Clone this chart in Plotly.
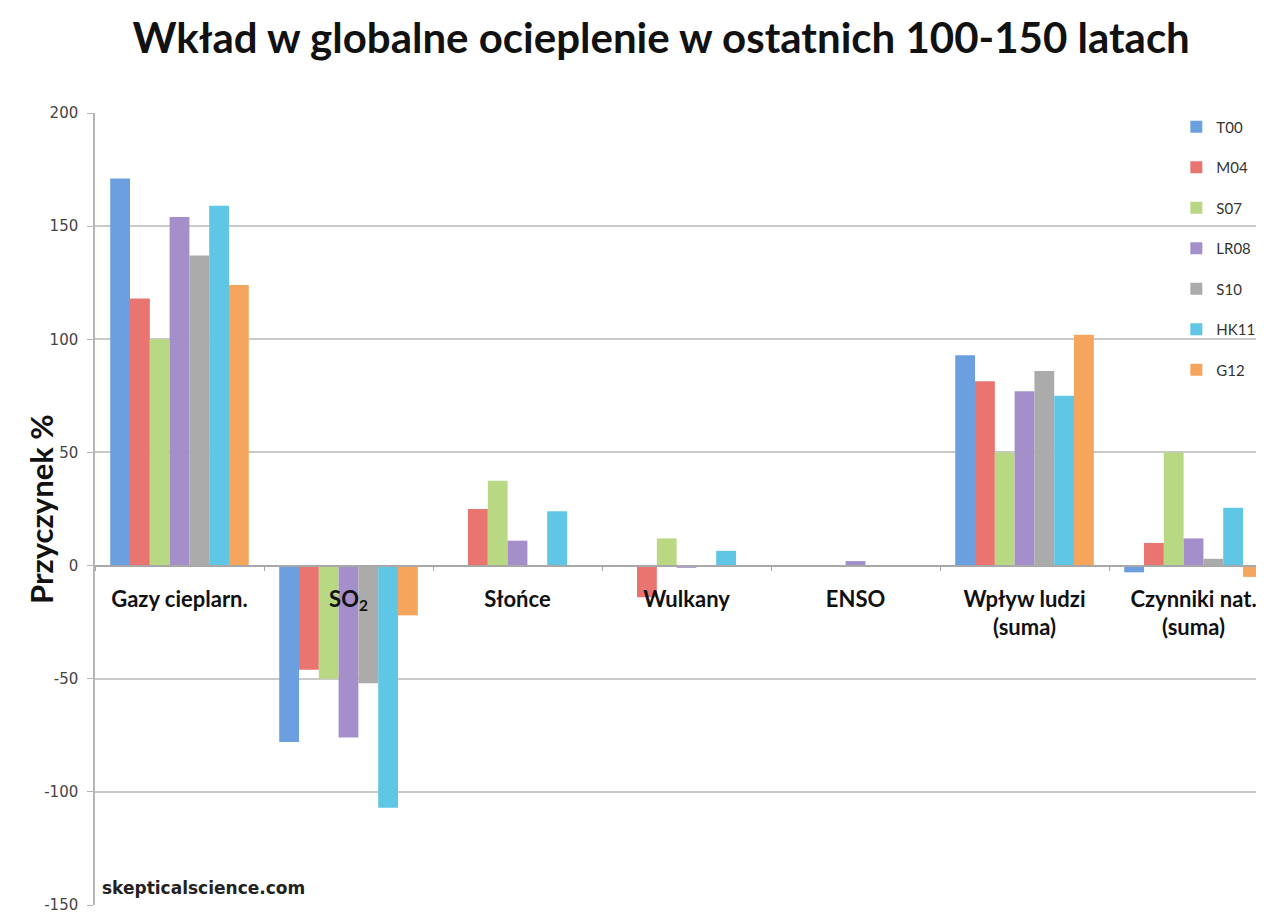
"""Wkład w globalne ocieplenie – grouped bar chart."""
import plotly.graph_objects as go

# ── Data ─────────────────────────────────────────────────────────────────────
categories = [
    "Gazy cieplarn.",
    "SO<sub>2</sub>",
    "Słońce",
    "Wulkany",
    "ENSO",
    "Wpływ ludzi<br>(suma)",
    "Czynniki nat.<br>(suma)",
]
series_names = ["T00", "M04", "S07", "LR08", "S10", "HK11", "G12"]

t00 = [171, -78, 0, 0, 0, 93, -3]
m04 = [118, -46, 25, -14, 0, 81.5, 10]
s07 = [100, -50, 37.5, 12, 0, 50, 50]
lr08 = [154, -76, 11, -1, 2, 77, 12]
s10 = [137, -52, 0, 0, 0, 86, 3]
hk11 = [159, -107, 24, 6.5, 0, 75, 25.5]
g12 = [124, -22, 0, 0, 0, 102, -5]

y_ticks = [200, 150, 100, 50, 0, -50, -100, -150]
y_tick_text = ["200", "150", "100", "50", "0", "-50", "-100", "-150"]

# ── Styling ──────────────────────────────────────────────────────────────────
_COLORS = ["#6b9fe0", "#e97470", "#b8d883", "#a58fcb", "#ababab", "#5fc6e6", "#f6a65c"]
_FONT = "Lato, 'Open Sans', sans-serif"
_TICK_FONT = "DejaVu Sans, Verdana, sans-serif"
_GRID = "#c9c9c9"

fig = go.Figure()
for name, vals, col in zip(series_names, [t00, m04, s07, lr08, s10, hk11, g12], _COLORS):
    fig.add_trace(
        go.Bar(
            name=name,
            x=categories,
            y=vals,
            marker=dict(color=col, line=dict(width=0)),
            legendgroup=name,
        )
    )

# page body adds an 8px offset, so the figure is 8px smaller than the window
fig.update_layout(
    width=1256,
    height=905,
    paper_bgcolor="white",
    plot_bgcolor="white",
    barmode="group",
    bargap=0.18,
    bargroupgap=0,
    margin=dict(l=87, r=0, t=105, b=8, autoexpand=False),
    title=dict(
        text="<b>Wkład w globalne ocieplenie w ostatnich 100-150 latach</b>",
        font=dict(family=_FONT, size=42, color="#111"),
        x=0.52,
        xanchor="center",
        y=0.966,
        yanchor="middle",
    ),
    legend=dict(
        x=0.925,
        y=1.003,
        xanchor="left",
        yanchor="top",
        bgcolor="rgba(0,0,0,0)",
        font=dict(family=_FONT, size=15, color="#333"),
        traceorder="grouped",
        tracegroupgap=18,
        itemwidth=30,
    ),
    xaxis=dict(
        type="category",
        range=[-0.5, 6.417],
        anchor="free",
        position=150 / 350,
        showline=True,
        linecolor="#a8a8a8",
        linewidth=1.5,
        showgrid=False,
        tickson="boundaries",
        ticks="outside",
        ticklen=5,
        tickcolor="#a8a8a8",
        ticklabelstandoff=14,
        tickfont=dict(family=_FONT, size=22, color="#111", weight="bold"),
    ),
    yaxis=dict(
        range=[-150, 200],
        tickvals=y_ticks,
        ticktext=y_tick_text,
        showline=True,
        linecolor="#b5b5b5",
        linewidth=1.5,
        gridcolor=_GRID,
        gridwidth=1.5,
        zeroline=False,
        ticks="outside",
        ticklen=6,
        tickcolor="#b5b5b5",
        ticklabelstandoff=6,
        ticklabeloverflow="allow",
        tickfont=dict(family=_TICK_FONT, size=15, color="#444"),
    ),
    annotations=[
        dict(
            text="<b>Przyczynek %</b>",
            xref="paper",
            yref="paper",
            x=0,
            xshift=-54,
            y=0.5,
            textangle=-90,
            xanchor="center",
            yanchor="middle",
            showarrow=False,
            font=dict(family=_FONT, size=31, color="#111"),
        ),
        dict(
            text="<b>skepticalscience.com</b>",
            xref="paper",
            yref="paper",
            x=0.004,
            y=0.006,
            xanchor="left",
            yanchor="bottom",
            showarrow=False,
            font=dict(family=_TICK_FONT, size=17, color="#222"),
        ),
    ],
)

fig.write_html("out.html")
